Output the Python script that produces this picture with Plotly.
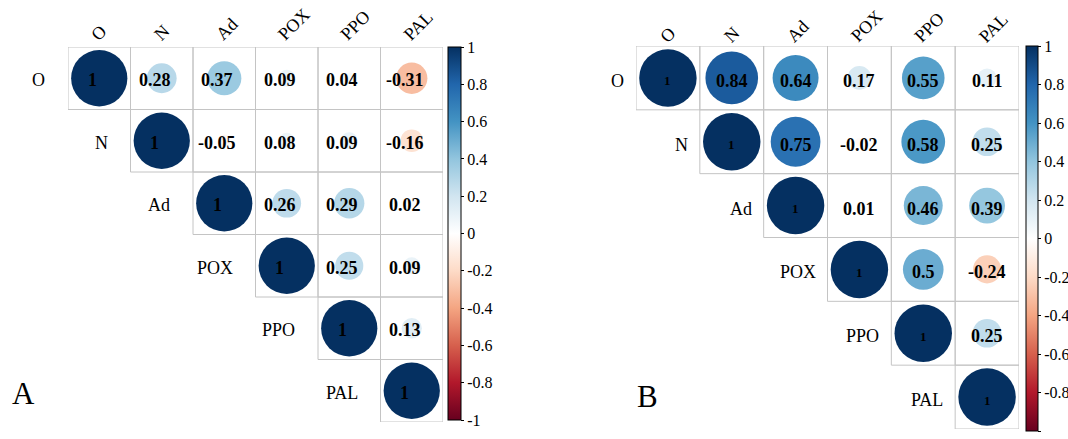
import numpy as np
import plotly.graph_objects as go

labels = ["O", "N", "Ad", "POX", "PPO", "PAL"]

corr_a = [
    [1, 0.28, 0.37, 0.09, 0.04, -0.31],
    [None, 1, -0.05, 0.08, 0.09, -0.16],
    [None, None, 1, 0.26, 0.29, 0.02],
    [None, None, None, 1, 0.25, 0.09],
    [None, None, None, None, 1, 0.13],
    [None, None, None, None, None, 1],
]
corr_b = [
    [1, 0.84, 0.64, 0.17, 0.55, 0.11],
    [None, 1, 0.75, -0.02, 0.58, 0.25],
    [None, None, 1, 0.01, 0.46, 0.39],
    [None, None, None, 1, 0.5, -0.24],
    [None, None, None, None, 1, 0.25],
    [None, None, None, None, None, 1],
]
panel_letters = ["A", "B"]
tick_vals = [-1, -0.8, -0.6, -0.4, -0.2, 0, 0.2, 0.4, 0.6, 0.8, 1]
tick_text = ["-1", "-0.8", "-0.6", "-0.4", "-0.2", "0", "0.2", "0.4", "0.6", "0.8", "1"]

rdbu_cols = ["#67001F", "#B2182B", "#D6604D", "#F4A582", "#FDDBC7", "#FFFFFF",
             "#D1E5F0", "#92C5DE", "#4393C3", "#2166AC", "#053061"]
colorscale = [[i / 10, c] for i, c in enumerate(rdbu_cols)]

W, H = 1068, 439
SERIF = "Liberation Serif"

panels = [
    dict(mat=corr_a, x0=68, x1=443, y0=47, y1=422, cb_x=448, cb_th=13, cb_tl=3, cb_y0=47, cb_y1=420,
         gap=21, cdx=-15, cdy=0, xshift=-7, tshift=-2, val_font=18, diag_font=18,
         letter=(23.5, 393)),
    dict(mat=corr_b, x0=636, x1=1019, y0=46, y1=429, cb_x=1026, cb_th=12, cb_tl=3, cb_y0=46, cb_y1=431,
         gap=10, cdx=-15, cdy=-3, xshift=0, tshift=-3, val_font=18, diag_font=13,
         letter=(647, 396)),
]

fig = go.Figure()
shapes, annotations = [], []
layout = {}
for k, p in enumerate(panels):
    sfx = "" if k == 0 else str(k + 1)
    xa, ya = "x" + sfx, "y" + sfx
    ca = "coloraxis" + sfx
    cell = (p["x1"] - p["x0"]) / 6.0
    mat = p["mat"]
    xs, ys, sizes, cols = [], [], [], []
    for i in range(6):
        for j in range(i, 6):
            v = mat[i][j]
            xs.append(j + 1)
            ys.append(i + 1)
            sizes.append(0.9 * cell * np.sqrt(abs(v)))
            cols.append(v)
            shapes.append(dict(type="rect", xref=xa, yref=ya, x0=j + 0.5, x1=j + 1.5,
                               y0=i + 0.5, y1=i + 1.5, line=dict(color="#C4C4C4", width=1),
                               layer="below"))
            annotations.append(dict(x=j + 1, y=i + 1, xref=xa, yref=ya, text="%g" % v,
                                    showarrow=False, xshift=p["xshift"], yshift=p["tshift"],
                                    font=dict(family=SERIF, weight="bold", color="black",
                                              size=p["diag_font"] if i == j else p["val_font"])))
    fig.add_trace(go.Scatter(x=xs, y=ys, mode="markers", xaxis=xa, yaxis=ya, hoverinfo="skip",
                             marker=dict(size=sizes, sizemode="diameter", color=cols,
                                         coloraxis=ca, line=dict(width=0), opacity=1)))
    for i, lab in enumerate(labels):
        annotations.append(dict(x=i + 0.5, y=i + 1, xref=xa, yref=ya, xshift=-p["gap"],
                                yshift=p["tshift"], text=lab, showarrow=False, xanchor="right",
                                font=dict(family=SERIF, size=18, color="black")))
        annotations.append(dict(x=i + 1, y=0.5, xref=xa, yref=ya,
                                xshift=p["cdx"], yshift=p["cdy"],
                                text=lab, showarrow=False,
                                xanchor="left", yanchor="bottom", textangle=-45,
                                font=dict(family=SERIF, size=18, color="black")))
    lx, ly = p["letter"]
    annotations.append(dict(x=lx / W, y=1 - ly / H, xref="paper", yref="paper",
                            text=panel_letters[k], showarrow=False, xanchor="center",
                            yanchor="middle", font=dict(family=SERIF, size=31, color="black")))
    layout["xaxis" + sfx] = dict(domain=[p["x0"] / W, p["x1"] / W], range=[0.5, 6.5],
                                 visible=False, anchor=ya, fixedrange=True)
    layout["yaxis" + sfx] = dict(domain=[1 - p["y1"] / H, 1 - p["y0"] / H], range=[6.5, 0.5],
                                 visible=False, anchor=xa, fixedrange=True)
    layout[ca] = dict(cmin=-1, cmax=1, colorscale=colorscale,
                      colorbar=dict(x=p["cb_x"] / W, xanchor="left", y=1 - p["cb_y1"] / H,
                                    yanchor="bottom", len=(p["cb_y1"] - p["cb_y0"]) / H,
                                    lenmode="fraction", thickness=p["cb_th"],
                                    thicknessmode="pixels", xpad=0, ypad=0,
                                    outlinewidth=1, outlinecolor="black",
                                    ticks="outside", ticklen=p["cb_tl"], tickwidth=1,
                                    tickcolor="black",
                                    tickvals=tick_vals, ticktext=tick_text,
                                    tickfont=dict(family=SERIF, size=16, color="black")))

fig.update_layout(width=W, height=H, margin=dict(l=0, r=0, t=0, b=0, autoexpand=False),
                  paper_bgcolor="white", plot_bgcolor="white", showlegend=False,
                  shapes=shapes, annotations=annotations, **layout)
fig.write_html("out.html", config={"displayModeBar": False},
               post_script="document.body.style.margin='0px';document.body.style.overflow='hidden';")
